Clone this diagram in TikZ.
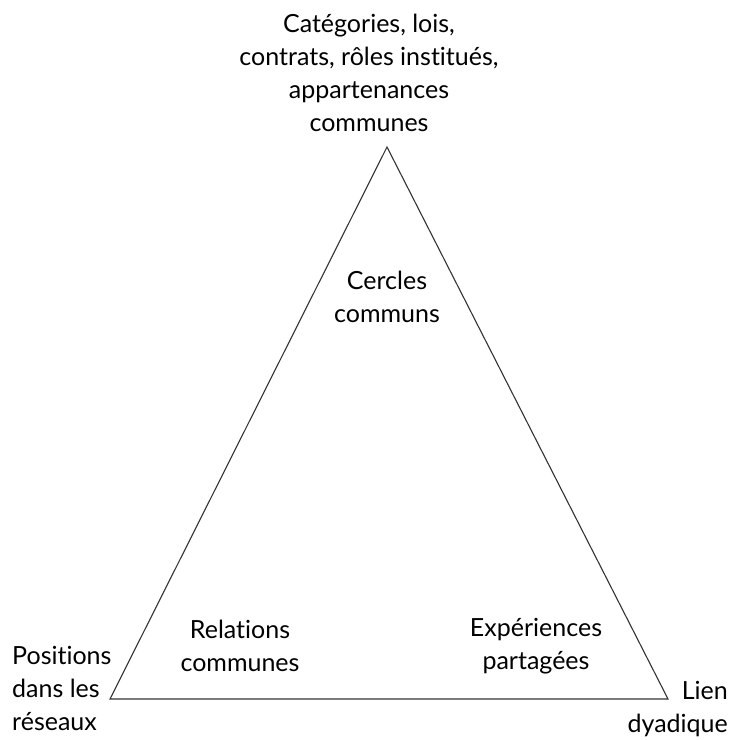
\documentclass[tikz,border=0pt]{standalone}
\usepackage{fontspec}
\setmainfont{Lato}[Ligatures=NoCommon]
\usepackage{tikz}
\usetikzlibrary{positioning}

\begin{document}
\begin{tikzpicture}
	[x=1pt, y=-1pt, every node/.style={align=center, inner sep=0pt, font=\fontsize{25}{33}\selectfont},
	 edgeline/.style={draw=black!80, line width=1.1pt, line join=miter}]
   \useasboundingbox (0,0) rectangle (730,740);
   \coordinate (top) at (387,147);
   \coordinate (bl)  at (110,699);
   \coordinate (br)  at (668,699);
   \node (cat)   at (369,73)  {Catégories, lois,\\contrats, rôles institués,\\appartenances\\communes};
   \node (cerc)  at (387,297) {Cercles\\communs};
   \node (rel)   at (240,646) {Relations\\communes};
   \node (exp)   at (536,646) {Expériences\\partagées};
   \node[align=left, anchor=west] (pos) at (12,688) {Positions\\dans les\\réseaux};
   \node[align=right, anchor=east] (lien) at (728,709) {Lien\\dyadique};
    \draw[edgeline] 
    (top) -- (bl) -- (br) -- cycle;
\end{tikzpicture}
\end{document}
